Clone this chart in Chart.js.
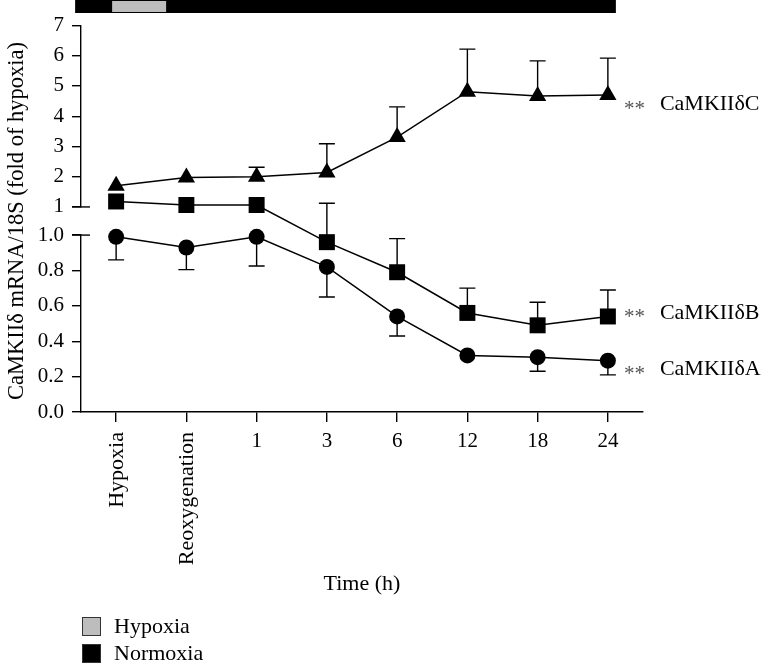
<!DOCTYPE html>
<html>
<head>
<meta charset="utf-8">
<script src="https://cdn.jsdelivr.net/npm/chart.js@4.4.1/dist/chart.umd.min.js"></script>
<style>
  html, body { margin: 0; padding: 0; background: #fff; }
</style>
</head>
<body>
<canvas id="chart" width="761" height="664"></canvas>
<script>
// time points on the x axis
const timeLabels = ['Hypoxia', 'Reoxygenation', '1', '3', '6', '12', '18', '24'];

// CaMKIIδ isoforms, fold of hypoxia
const deltaA = [0.99, 0.93, 0.99, 0.82, 0.54, 0.32, 0.31, 0.29];
const deltaB = [1.19, 1.17, 1.17, 0.96, 0.79, 0.56, 0.49, 0.54];
const deltaC = [1.70, 1.97, 2.00, 2.14, 3.31, 4.81, 4.67, 4.70];

// error bar ends (A goes down, B and C go up)
const errA = [0.86, 0.805, 0.825, 0.65, 0.43, null, 0.23, 0.21];
const errB = [null, null, null, 1.18, 0.98, 0.70, 0.62, 0.69];
const errC = [null, null, 2.31, 3.09, 4.31, 6.22, 5.83, 5.92];

const seriesNames = ['CaMKIIδA', 'CaMKIIδB', 'CaMKIIδC'];
const highTicks = [1, 2, 3, 4, 5, 6, 7];
const lowTicks = [0, 0.2, 0.4, 0.6, 0.8, 1.0];
const legendNames = ['Hypoxia', 'Normoxia'];

const FONT = "'Liberation Serif', 'Times New Roman', serif";
Chart.defaults.font.family = FONT;
Chart.defaults.font.size = 21;
Chart.defaults.color = '#000';

const AXIS_W = 81;
const LABEL_SHIFT = [8.5, -3.5, 9.5]; // A, B, C name offsets from last point

const decorations = {
    id: 'decorations',
    beforeDatasetsDraw(chart) {
        const ctx = chart.ctx;
        const x = chart.scales.x;
        ctx.save();
        ctx.strokeStyle = '#000';
        ctx.lineWidth = 1.4;
        [[deltaA, errA, 'yLow'], [deltaB, errB, 'yLow'], [deltaC, errC, 'yHigh']].forEach(([vals, ends, id]) => {
            const y = chart.scales[id];
            ends.forEach((end, i) => {
                if (end == null) return;
                const px = x.getPixelForValue(i);
                const y0 = y.getPixelForValue(vals[i]);
                const y1 = y.getPixelForValue(end);
                ctx.beginPath();
                ctx.moveTo(px, y0);
                ctx.lineTo(px, y1);
                ctx.moveTo(px - 8, y1);
                ctx.lineTo(px + 8, y1);
                ctx.stroke();
            });
        });
        ctx.restore();
    },
    afterDraw(chart) {
        const ctx = chart.ctx;
        const x = chart.scales.x;
        const yHigh = chart.scales.yHigh;
        const yLow = chart.scales.yLow;
        const left = chart.chartArea.left;
        ctx.save();

        // break marks where the two y ranges meet
        ctx.strokeStyle = '#000';
        ctx.lineWidth = 1.4;
        [yHigh.getPixelForValue(1), yLow.getPixelForValue(1)].forEach(py => {
            ctx.beginPath();
            ctx.moveTo(left - 9, py);
            ctx.lineTo(left + 9, py);
            ctx.stroke();
        });

        // timeline bar on top
        const first = x.getPixelForValue(0);
        const last = x.getPixelForValue(timeLabels.length - 1);
        ctx.fillStyle = '#000';
        ctx.fillRect(first - 41, 0, last + 8 - (first - 41), 13);
        ctx.fillStyle = '#bdbdbd';
        ctx.fillRect(first - 4, 1, 54, 11);

        // rotated word labels under the first two ticks
        ctx.font = '22px ' + FONT;
        ctx.fillStyle = '#000';
        ctx.textAlign = 'right';
        ctx.textBaseline = 'middle';
        [0, 1].forEach(i => {
            ctx.save();
            ctx.translate(x.getPixelForValue(i), x.top + 20);
            ctx.rotate(-Math.PI / 2);
            ctx.fillText(timeLabels[i], 0, 1);
            ctx.restore();
        });

        // series names at the right end
        const lastIdx = timeLabels.length - 1;
        [[deltaA, yLow], [deltaB, yLow], [deltaC, yHigh]].forEach(([vals, sc], k) => {
            const py = sc.getPixelForValue(vals[lastIdx]) + LABEL_SHIFT[k];
            ctx.textAlign = 'left';
            ctx.fillStyle = '#555';
            ctx.font = '21px ' + FONT;
            ctx.fillText('**', last + 16, py + 5);
            ctx.fillStyle = '#000';
            ctx.font = '22px ' + FONT;
            ctx.fillText(seriesNames[k], last + 52, py);
        });

        // legend for the timeline bar
        const lx = left + 1;
        [['#bdbdbd', 617], ['#000', 644]].forEach(([col, ly], k) => {
            ctx.fillStyle = col;
            ctx.fillRect(lx, ly, 19, 19);
            ctx.strokeStyle = '#333';
            ctx.lineWidth = 1;
            ctx.strokeRect(lx + 0.5, ly + 0.5, 18, 18);
            ctx.fillStyle = '#000';
            ctx.textAlign = 'left';
            ctx.fillText(legendNames[k], lx + 32, ly + 10);
        });
        ctx.restore();
    }
};

const yCommon = {
    type: 'linear',
    position: 'left',
    stack: 'y',
    afterFit: s => { s.width = AXIS_W; },
    grid: { drawOnChartArea: false, drawTicks: true, tickLength: 9, color: '#000', lineWidth: 1.4 },
    border: { color: '#000', width: 1.4 },
    ticks: { padding: 8, color: '#000', autoSkip: false }
};

new Chart(document.getElementById('chart'), {
    type: 'line',
    data: {
        labels: timeLabels,
        datasets: [
            {
                label: seriesNames[2], data: deltaC, yAxisID: 'yHigh',
                pointStyle: 'triangle', pointRadius: 10
            },
            {
                label: seriesNames[1], data: deltaB, yAxisID: 'yLow',
                pointStyle: 'rect', pointRadius: 11.3
            },
            {
                label: seriesNames[0], data: deltaA, yAxisID: 'yLow',
                pointStyle: 'circle', pointRadius: 8
            }
        ].map(d => Object.assign({
            borderColor: '#000', borderWidth: 1.5, clip: false,
            pointBackgroundColor: '#000', pointBorderColor: '#000', pointBorderWidth: 0,
            tension: 0, fill: false
        }, d))
    },
    options: {
        responsive: false,
        animation: false,
        events: [],
        layout: { padding: { top: 25.5, right: 118, bottom: 50, left: 0 } },
        plugins: { legend: { display: false }, tooltip: { enabled: false } },
        scales: {
            x: {
                type: 'category',
                offset: true,
                grid: { offset: false, drawOnChartArea: false, tickLength: 10, color: '#000', lineWidth: 1.4 },
                border: { color: '#000', width: 1.4 },
                ticks: {
                    padding: 7, maxRotation: 0, autoSkip: false,
                    callback: (v, i) => (i < 2 ? '' : timeLabels[i])
                },
                title: { display: true, text: 'Time (h)', font: { size: 22 }, padding: { top: 109.4, bottom: 17 } }
            },
            yHigh: Object.assign({}, yCommon, {
                min: 1, max: 7, weight: 3, stackWeight: 180.5,
                afterBuildTicks: s => { s.ticks = highTicks.map(v => ({ value: v })); },
                ticks: Object.assign({}, yCommon.ticks, { callback: v => String(v) })
            }),
            yGap: {
                type: 'linear', position: 'left', stack: 'y', weight: 2, stackWeight: 28,
                min: 0, max: 1,
                afterFit: s => { s.width = AXIS_W; },
                grid: { display: false },
                border: { display: false },
                ticks: { display: false },
                title: {
                    display: true, text: 'CaMKIIδ mRNA/18S (fold of hypoxia)',
                    font: { size: 22.5 }, padding: { top: 3.5 }
                }
            },
            yLow: Object.assign({}, yCommon, {
                min: 0, max: 1, weight: 1, stackWeight: 176,
                afterBuildTicks: s => { s.ticks = lowTicks.map(v => ({ value: v })); },
                ticks: Object.assign({}, yCommon.ticks, { callback: v => Number(v).toFixed(1) })
            })
        }
    },
    plugins: [decorations]
});
</script>
</body>
</html>
